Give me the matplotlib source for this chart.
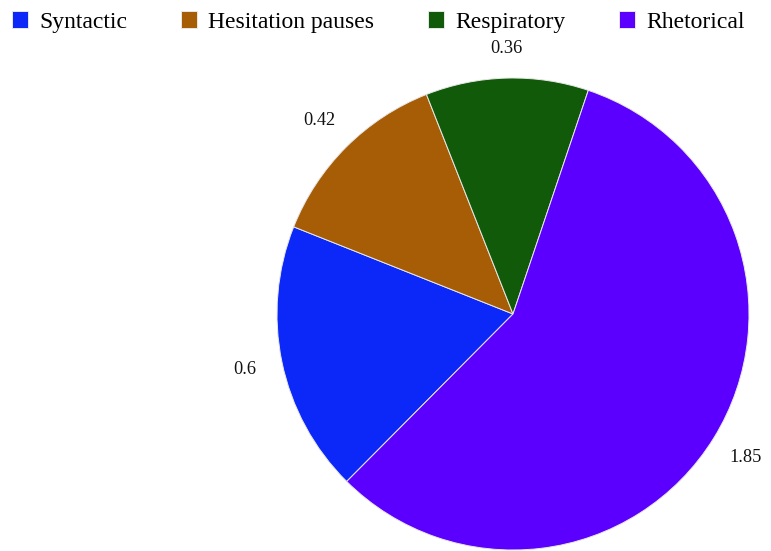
import matplotlib
matplotlib.use('Agg')
import matplotlib.pyplot as plt

# Chart data
categories = ['Syntactic', 'Hesitation pauses', 'Respiratory', 'Rhetorical']
values = [0.6, 0.42, 0.36, 1.85]
colors = ['#0c28f8', '#a65d06', '#115a0a', '#5b00ff']

plt.rcParams['font.family'] = ['Liberation Serif', 'DejaVu Serif']

W, H = 771, 551
fig = plt.figure(figsize=(W / 100, H / 100), dpi=100)

# Pie placed with center (513, 314) px and radius 236 px
cx, cy, r = 513, 314, 236
ax = fig.add_axes([(cx - r) / W, (H - cy - r) / H, 2 * r / W, 2 * r / H])

wedges, texts = ax.pie(
    values,
    labels=[f'{v:g}' for v in values],
    colors=colors,
    startangle=-134.8,
    counterclock=False,
    labeldistance=1.16,
    radius=1,
    wedgeprops={'edgecolor': '#e8e8e8', 'linewidth': 0.7},
    textprops={'fontsize': 13.2, 'color': '#111111'},
)
for t in texts:
    t.set_ha('center')
    t.set_va('center')
# top label sits a bit lower in the reference, clear of the legend
texts[2].set_va('top')
ax.set_xlim(-1, 1)
ax.set_ylim(-1, 1)

# Legend along the top
fig.legend(
    wedges, categories,
    loc='center left', bbox_to_anchor=(0.015, 1 - 22 / H),
    ncol=4, frameon=False, fontsize=17,
    handlelength=0.68, handleheight=0.68, handletextpad=0.5,
    columnspacing=2.25, borderaxespad=0, borderpad=0,
)

fig.savefig('out.png', dpi=100)
